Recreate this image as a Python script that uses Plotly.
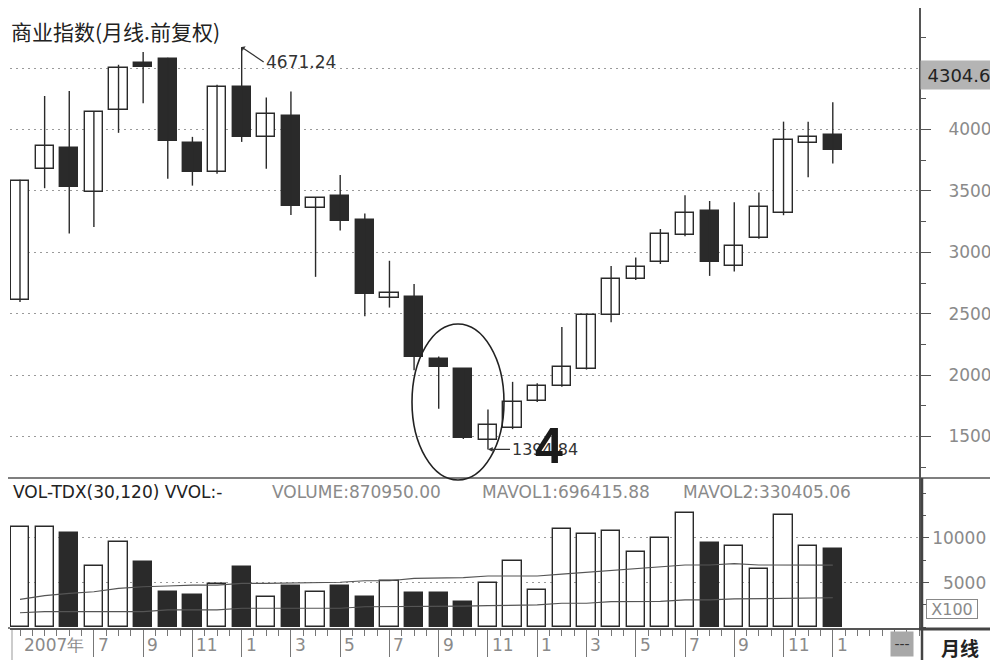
import plotly.graph_objects as go

# ---------------- data (monthly, Apr 2007 .. Jan 2010) ----------------
months = ["2007-04", "2007-05", "2007-06", "2007-07", "2007-08", "2007-09", "2007-10",
          "2007-11", "2007-12", "2008-01", "2008-02", "2008-03", "2008-04", "2008-05",
          "2008-06", "2008-07", "2008-08", "2008-09", "2008-10", "2008-11", "2008-12",
          "2009-01", "2009-02", "2009-03", "2009-04", "2009-05", "2009-06", "2009-07",
          "2009-08", "2009-09", "2009-10", "2009-11", "2009-12", "2010-01"]
opens = [2609, 3675, 3850, 3494, 4158, 4541, 4576, 3893, 3653, 4350, 3940, 4112, 3360, 3457,
         3260, 2625, 2640, 2134, 2048, 1473, 1573, 1788, 1913, 2050, 2491, 2779, 2918, 3138,
         3336, 2890, 3118, 3321, 3890, 3959]
closes = [3580, 3863, 3535, 4145, 4500, 4508, 3904, 3653, 4350, 3940, 4125, 3375, 3440, 3254,
          2658, 2665, 2150, 2062, 1487, 1590, 1778, 1911, 2063, 2491, 2779, 2883, 3150, 3321,
          2918, 3049, 3367, 3912, 3937, 3835]
highs = [3590, 4273, 4314, 4150, 4527, 4631, 4585, 3940, 4365, 4671.24, 4260, 4309, 3445, 3629,
         3315, 2931, 2742, 2152, 2052, 1720, 1945, 1934, 2392, 2495, 2888, 2957, 3190, 3464,
         3418, 3408, 3486, 4064, 4064, 4222]
lows = [2595, 3522, 3153, 3207, 3973, 4213, 3598, 3543, 3640, 3899, 3680, 3303, 2800, 3178,
        2480, 2550, 2040, 1726, 1480, 1394.84, 1560, 1780, 1905, 2045, 2430, 2775, 2905, 3130,
        2808, 2843, 3110, 3302, 3611, 3723]
# volume in units of x100
volumes = [11260, 11260, 10520, 6890, 9510, 7270, 3980, 3610, 4850, 6710, 3360, 4620, 3980,
           4620, 3420, 5180, 3800, 3800, 2870, 4920, 7450, 4170, 11000, 10410, 10810, 8460,
           10030, 12760, 9470, 9100, 6520, 12570, 9100, 8709.5]
mavol1 = [3130, 3540, 3800, 3980, 4360, 4540, 4620, 4730, 4730, 4920, 4920, 4980, 5040, 5040,
          5210, 5210, 5480, 5480, 5550, 5740, 5740, 5740, 5960, 6150, 6330, 6600, 6750, 6970,
          6970, 7120, 6970, 6970, 6970, 6964.16]
mavol2 = [1630, 1750, 1750, 1750, 1750, 1750, 1940, 1940, 1940, 2130, 2130, 2130, 2130, 2130,
          2300, 2300, 2300, 2300, 2380, 2420, 2500, 2500, 2690, 2690, 2870, 2870, 2900, 3060,
          3060, 3170, 3200, 3310, 3310, 3304.05]
price_ticks = [1500, 2000, 2500, 3000, 3500, 4000, 4500]
vol_ticks = [5000, 10000]
vol_tick_text = ["\u20075000", "10000"]
month_label_idx = [0, 3, 5, 7, 9, 11, 13, 15, 17, 19, 21, 23, 25, 27, 29, 31, 33]
month_labels = ["2007年", "7", "9", "11", "1", "3", "5", "7", "9", "11", "1", "3", "5", "7",
                "9", "11", "1"]
title_text = "商业指数(月线.前复权)"
vol_title = "VOL-TDX(30,120) VVOL:-"
vol_info = ["VOLUME:870950.00", "MAVOL1:696415.88", "MAVOL2:330405.06"]
peak_label = "4671.24"
low_label = "1394.84"
last_price = "4304.6"

# ---------------- helpers ----------------
# the page body has an 8px margin, so the figure is 990x652 placed at (8, 8);
# PX/PY take positions in screen pixels and convert to paper coordinates.
OFF = 8
W, H = 998 - OFF, 660 - OFF
def PX(p):
    return (p - OFF) / W
def PY(p):
    return 1 - (p - OFF) / H

DARK = "#2a2a2a"
GRAY = "#8a8a8a"
LINE = "#555555"
FONT = "DejaVu Sans"

n = len(opens)
idx = list(range(n))
up = [c >= o for o, c in zip(opens, closes)]
fills = ["white" if u else DARK for u in up]

fig = go.Figure()

# wicks
wx, wy = [], []
for i, h, l in zip(idx, highs, lows):
    wx += [i, i, None]
    wy += [l, h, None]
fig.add_trace(go.Scatter(x=wx, y=wy, mode="lines", line=dict(color=DARK, width=1.4),
                         xaxis="x", yaxis="y", hoverinfo="skip"))
# bodies
fig.add_trace(go.Bar(x=idx, y=[max(abs(c - o), 1) for o, c in zip(opens, closes)],
                     base=[min(o, c) for o, c in zip(opens, closes)], width=0.74,
                     marker=dict(color=fills, line=dict(color=DARK, width=1.4)),
                     xaxis="x", yaxis="y"))
# invisible companion trace so the label-only price axis (y3) is drawn
fig.add_trace(go.Scatter(x=idx, y=closes, mode="lines", line=dict(width=0), opacity=0,
                         xaxis="x", yaxis="y3", hoverinfo="skip"))
# volume
fig.add_trace(go.Bar(x=idx, y=volumes, width=0.74,
                     marker=dict(color=fills, line=dict(color=DARK, width=1.4)),
                     xaxis="x2", yaxis="y2"))
fig.add_trace(go.Scatter(x=idx, y=mavol1, mode="lines", line=dict(color="#555", width=1.2),
                         xaxis="x2", yaxis="y2"))
fig.add_trace(go.Scatter(x=idx, y=mavol2, mode="lines", line=dict(color="#555", width=1.2),
                         xaxis="x2", yaxis="y2"))

# axis geometry (screen pixels)
slot = 24.63
x0_px, x1_px, first_px = 10, 919, 20
xa = -(first_px - x0_px) / slot
xb = xa + (x1_px - x0_px) / slot
ppu = 0.1228
ymin = 4000 - (478 - 129.5) / ppu
ymax = 4000 + (129.5 - 8) / ppu
vpp = 111.9
vmin = -(628 - 627.3) * vpp
vmax = (627.3 - 478) * vpp

axfont = dict(family=FONT, size=17, color=GRAY)
fig.update_layout(
    width=W, height=H, autosize=False,
    margin=dict(l=0, r=0, t=0, b=0, autoexpand=False),
    paper_bgcolor="white", plot_bgcolor="white", showlegend=False,
    barmode="overlay", bargap=0,
    xaxis=dict(domain=[PX(x0_px), PX(x1_px)], range=[xa, xb], anchor="y", automargin=False,
               showticklabels=False, showgrid=False, zeroline=False, ticks=""),
    yaxis=dict(domain=[PY(478), PY(8)], range=[ymin, ymax], anchor="x", side="right",
               automargin=False, showticklabels=False,
               showline=True, linecolor=LINE, linewidth=1.5, zeroline=False,
               tickmode="array", tickvals=price_ticks, ticks="outside", ticklen=10,
               tickcolor=LINE,
               showgrid=True, gridcolor="#9a9a9a", griddash="2px,4px", gridwidth=1,
               minor=dict(ticks="outside", ticklen=5, dtick=250, tick0=0,
                          tickcolor=LINE, showgrid=False)),
    # label-only overlay axis: long transparent ticks push the labels to the right
    yaxis3=dict(overlaying="y", range=[ymin, ymax], anchor="x", side="right",
                automargin=False, showline=False, showgrid=False, zeroline=False,
                tickmode="array", tickvals=price_ticks, ticks="outside", ticklen=25,
                tickcolor="rgba(0,0,0,0)", tickfont=axfont),
    xaxis2=dict(domain=[PX(x0_px), PX(x1_px)], range=[xa, xb], anchor="y2", matches="x",
                automargin=False,
                showticklabels=False, showgrid=False, zeroline=False,
                showline=True, linecolor=LINE, linewidth=1.5,
                tickmode="array", tickvals=month_label_idx[1:], ticks="outside",
                ticklen=27, tickcolor="#777",
                minor=dict(ticks="outside", ticklen=6, dtick=0.5, tick0=0,
                           tickcolor="#777", showgrid=False)),
    yaxis2=dict(domain=[PY(628), PY(478)], range=[vmin, vmax], anchor="x2", side="right",
                automargin=False,
                showline=True, linecolor=LINE, linewidth=1.5, zeroline=False,
                tickmode="array", tickvals=vol_ticks, ticktext=vol_tick_text,
                ticks="outside", ticklen=8, tickcolor=LINE, tickfont=axfont,
                showgrid=True, gridcolor="#9a9a9a", griddash="2px,4px", gridwidth=1,
                minor=dict(ticks="outside", ticklen=5, dtick=2500, tick0=0,
                           tickcolor=LINE, showgrid=False)),
)

shapes = [
    dict(type="line", xref="paper", yref="paper", x0=0, x1=1, y0=PY(478), y1=PY(478),
         line=dict(color=LINE, width=1.5)),
    dict(type="line", xref="paper", yref="paper", x0=0, x1=PX(10), y0=PY(628), y1=PY(628),
         line=dict(color=LINE, width=1.5)),
    dict(type="line", xref="paper", yref="paper", x0=PX(919), x1=1, y0=PY(629), y1=PY(629),
         line=dict(color="#444", width=3)),
    dict(type="line", xref="paper", yref="paper", x0=PX(922), x1=PX(922), y0=PY(478), y1=0,
         line=dict(color="#444", width=2.5)),
    dict(type="line", xref="paper", yref="paper", x0=PX(12), x1=PX(12), y0=PY(630), y1=0,
         line=dict(color="#999", width=1)),
    dict(type="circle", xref="paper", yref="paper", x0=PX(412), x1=PX(504),
         y0=PY(480), y1=PY(324), line=dict(color="#222", width=1.6)),
]
fig.update_layout(shapes=shapes)

ann = []
ann.append(dict(text=title_text, x=PX(9), y=PY(31), xref="paper", yref="paper",
                xanchor="left", yanchor="middle", showarrow=False,
                font=dict(family="Noto Sans CJK SC", size=21, color="#222")))
ann.append(dict(text=vol_title, x=PX(11), y=PY(492), xref="paper", yref="paper",
                xanchor="left", yanchor="middle", showarrow=False,
                font=dict(family=FONT, size=17, color="#222")))
for t, xp in zip(vol_info, [270, 480, 681]):
    ann.append(dict(text=t, x=PX(xp), y=PY(492), xref="paper", yref="paper",
                    xanchor="left", yanchor="middle", showarrow=False,
                    font=dict(family=FONT, size=17, color=GRAY)))
# month labels
for i, lab in zip(month_label_idx, month_labels):
    ann.append(dict(text=lab, x=i, y=PY(645), xref="x2", yref="paper", xanchor="left",
                    yanchor="middle", xshift=2, showarrow=False,
                    font=dict(family=FONT, size=17, color=GRAY)))
# peak & low
pk = highs.index(max(highs))
ann.append(dict(text=peak_label, x=idx[pk], y=highs[pk], xref="x", yref="y",
                xanchor="left", yanchor="middle", showarrow=True, ax=22, ay=15,
                arrowhead=1, arrowsize=0.8, arrowwidth=1.2, arrowcolor="#333",
                font=dict(family=FONT, size=17, color="#333")))
lo = lows.index(min(lows))
ann.append(dict(text=low_label, x=idx[lo], y=lows[lo], xref="x", yref="y",
                xanchor="left", yanchor="middle", showarrow=True, ax=22, ay=0,
                arrowhead=2, arrowsize=0.8, arrowwidth=1.2, arrowcolor="#333",
                font=dict(family=FONT, size=16, color="#333")))
ann.append(dict(text="<b>4</b>", x=PX(549), y=PY(446), xref="paper", yref="paper",
                xanchor="center", yanchor="middle", showarrow=False,
                font=dict(family="Liberation Sans", size=50, color="#1a1a1a")))
# right side labels
ann.append(dict(text=last_price, x=PX(959), y=PY(75), xref="paper", yref="paper",
                xanchor="center", yanchor="middle", showarrow=False, width=76, height=28,
                bgcolor="#b4b4b4", borderpad=0,
                font=dict(family=FONT, size=18, color="#222")))
ann.append(dict(text="X100", x=PX(952), y=PY(609), xref="paper", yref="paper",
                xanchor="center", yanchor="middle", showarrow=False, width=50, height=18,
                bordercolor="#888", borderwidth=1, borderpad=0, bgcolor="white",
                font=dict(family=FONT, size=16, color=GRAY)))
ann.append(dict(text="---", x=PX(902), y=PY(644), xref="paper", yref="paper",
                xanchor="center", yanchor="middle", showarrow=False, width=22, height=24,
                bgcolor="#a8a8a8", borderpad=0,
                font=dict(family=FONT, size=14, color="#333")))
ann.append(dict(text="<b>月线</b>", x=PX(960), y=PY(647), xref="paper", yref="paper",
                xanchor="center", yanchor="middle", showarrow=False,
                font=dict(family="Noto Sans CJK SC", size=19, color="#222")))
fig.update_layout(annotations=ann)

fig.write_html("out.html", config={"displayModeBar": False, "responsive": False})
